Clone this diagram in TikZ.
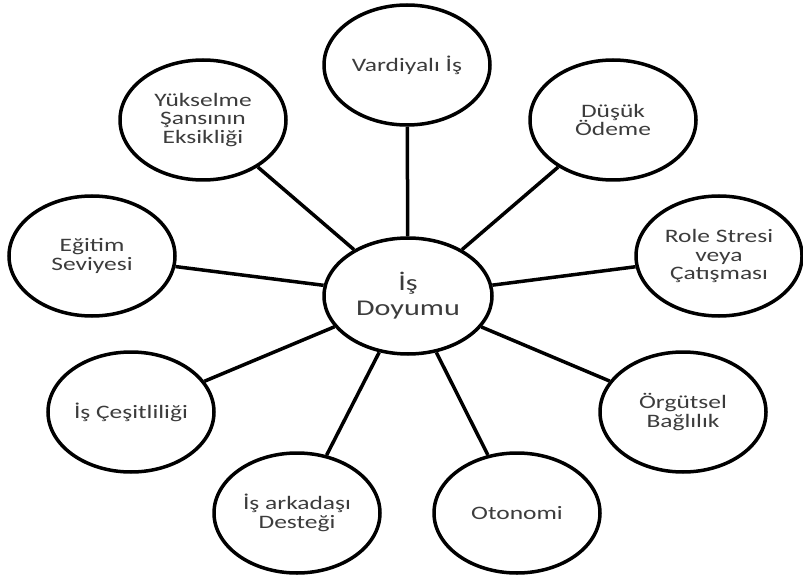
\documentclass[tikz,border=0pt]{standalone}
\usepackage{fontspec}
\setmainfont{Carlito}[FakeStretch=1.34]
\usetikzlibrary{shapes.geometric}
\definecolor{txtgray}{RGB}{60,60,60}
\begin{document}
\begin{tikzpicture}[x=1pt,y=-1pt,
  outer/.style={ellipse, draw=black, line width=3.5pt, fill=white, inner sep=0pt,
    minimum width=166pt, minimum height=120pt, align=center, text=txtgray,
    font=\fontsize{19}{18.5}\selectfont},
  hub/.style={outer, minimum width=168pt, minimum height=116pt,
    font=\fontsize{22.5}{25}\selectfont},
  spoke/.style={line width=3.5pt, draw=black}]
\useasboundingbox (0,0) rectangle (803,580);
\node[hub] (c) at (408,296) {İş\\Doyumu};
\node[outer] (vard) at (407,65) {Vardiyalı İş};
\node[outer] (dusuk) at (613,120) {Düşük\\Ödeme};
\node[outer] (role) at (719,256) {Role Stresi\\veya\\Çatışması};
\node[outer] (orgut) at (683,412) {Örgütsel\\Bağlılık};
\node[outer] (oton) at (517,513) {Otonomi};
\node[outer] (ark) at (297,513) {İş arkadaşı\\Desteği};
\node[outer] (cesit) at (131,412) {İş Çeşitliliği};
\node[outer] (egit) at (92,256) {Eğitim\\Seviyesi};
\node[outer] (yuk) at (203,120) {Yükselme\\Şansının\\Eksikliği};
\foreach \n in {vard,dusuk,role,orgut,oton,ark,cesit,egit,yuk}
  \draw[spoke] (c) -- (\n);
\end{tikzpicture}
\end{document}
